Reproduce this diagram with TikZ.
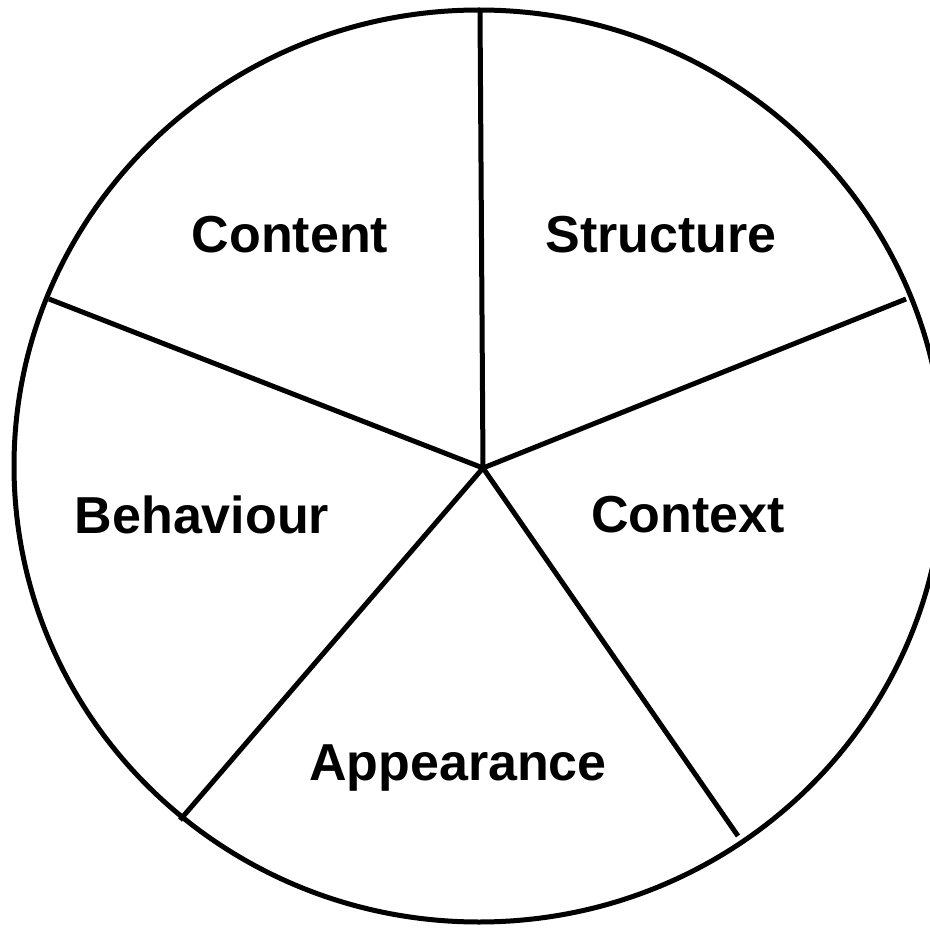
\documentclass[tikz,border=0pt]{standalone}
\usepackage{fontspec}
\setmainfont{Liberation Sans}
\begin{document}
\begin{tikzpicture}[x=1pt,y=-1pt,
  edge/.style={line width=5pt,black},
  lbl/.style={font=\bfseries\fontsize{52}{58}\selectfont,inner sep=0pt,anchor=center}]
\useasboundingbox (0,0) rectangle (930,928);
\clip (0,0) rectangle (930,928);
\fill[white] (0,0) rectangle (930,928);
\coordinate (hub) at (483,468);
\coordinate (pTop) at (480,10);
\coordinate (pUL) at (49,299);
\coordinate (pUR) at (906,299);
\coordinate (pLL) at (180,820);
\coordinate (pLR) at (738,836);
\draw[edge] (479,466) ellipse [x radius=465, y radius=456];
\draw[edge] (hub) -- (pTop);
\draw[edge] (hub) -- (pUL);
\draw[edge] (hub) -- (pUR);
\draw[edge] (hub) -- (pLL);
\draw[edge] (hub) -- (pLR);
\node[lbl] (content) at (290,235) {Content};
\node[lbl] (structure) at (661,235) {Structure};
\node[lbl] (behaviour) at (202,515) {Behaviour};
\node[lbl] (context) at (688,515) {Context};
\node[lbl] (appearance) at (458,768) {Appearance};
\end{tikzpicture}
\end{document}
